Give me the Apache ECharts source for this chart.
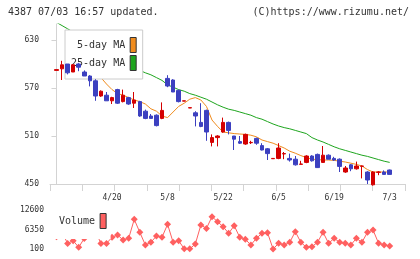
<!DOCTYPE html>
<html>
<head>
<meta charset="utf-8">
<script src="https://cdn.jsdelivr.net/npm/echarts@6/dist/echarts.min.js"></script>
<style>
html,body{margin:0;padding:0;background:#fff}
#chart{width:420px;height:259px}
</style>
</head>
<body>
<div id="chart"></div>
<script>
// daily prices, index 0 .. 60 (last = 7/3)
var dateLabels = ['4/20', '5/8', '5/22', '6/5', '6/19', '7/3']
var labelIdx = [10, 20, 30, 40, 50, 60]
var openP  = [592,594,600,590,600,590,585,579,560,561,554,568,553,558,551,553,541,535,536,532,
              582,580,567,553.6,545,539,527,542,502,508,515,527,510,503,500,501.6,507,498,494,481.6,
              482,487.6,482,481,474.6,477,485,487,477,486,482,481,465,474,469,472.1,465,449,464.6,465,467.5]
var closeP = [593,599,589,599,596,585,579,560,566,554,558,551,561,550,555,535,532,532,523,542,
              572.5,565,553,554,545.4,535,522,515,508,510,527,517,506,501,512,502,501,492.5,488,482,
              495,488,480,474,475,485,479,470.5,486,481,480,472,470,469,472.5,472.5,455,465,465,462,462]
var lowP   = [592,580,587,590,591,585,572,554,559,554,550,550,552,549,545,534,531,532,522,531,
              571,565,552,553.6,545,522,521,504,497,497,514,512,492.5,500,499,500,499,492,480,481.6,
              481,481,478,473,474.6,476,478,470,476.5,481,479,465,464,466,468,457,450,448,461,462,462]
var highP  = [593,604,600,600,601,592,586,581,567,565,559,569,568,559,565,554,543,537.5,537,552,
              586,581,568,554,545.4,541,551,543,512,511,533,528,510,510,513,504,508,501,495,482,
              501,490,488,485,479,486,486,488,497.5,487,484,482,472.5,475,478,473,466,466,466,467,468]
var ma5 = [null,null,null,null,594,592,588,585,583,575,568,563,561,558,555,553,550,544,541,535,
           533,540,547,551,556,558,555,547,530,522,515,514,513,512.5,512,511,509,505,503,501,
           498,495,491,488.5,485.5,483,481,480.5,480,480,479.5,478.5,477.5,476,474.5,472.5,468,465,465,465,465]
var ma25 = [652,648,644,640,636,632,628,624,620,616,612,608,604,600,596,592,589,586.5,583,579.5,
            574,571,568,566,563,561,558.5,556,552.5,549,546,543.5,542,540,538,536,533,531,528,525,
            522.5,520.5,519,517,515,513,508,505,502.5,499.5,496.5,494,492,490,488,486,484.5,482.5,480.5,478.5,477]
var volume = [4000,5400,1900,2750,650,3500,5000,5800,1900,1900,3850,4600,2980,3530,9600,5450,1400,2250,4270,3850,
              8000,2250,2750,150,150,1700,7800,6700,10450,8850,7250,5130,7570,3850,3210,1400,3530,5130,5320,100,
              1930,1380,2250,5650,2250,640,850,2250,5450,1930,3530,2250,1930,1380,3530,2250,5450,6190,1930,1380,1060]
var priceTicks = [450, 510, 570, 630]
var volTicks = [100, 6350, 12600]

var mono = 'DejaVu Sans Mono'
var xMin = -1.17
var xMax = 62.755
var xTicks = []
for (var k = 0; k <= 11; k++) xTicks.push(xMin + k * (xMax - xMin) / 11)

var candles = openP.map(function (o, i) { return [i, o, closeP[i], lowP[i], highP[i]] })
var ma5Data = ma5.map(function (v, i) { return [i, v] })
var ma25Data = ma25.map(function (v, i) { return [i, v] })
var volData = volume.map(function (v, i) { return [i, v] })

var chart = echarts.init(document.getElementById('chart'))
chart.setOption({
    animation: false,
    backgroundColor: '#fff',
    title: [
        {text: '4387 07/03 16:57 updated.', left: 8, top: 7, padding: 0,
         textStyle: {fontFamily: mono, fontSize: 10, fontWeight: 'normal', color: '#333'}},
        {text: '(C)https://www.rizumu.net/', right: 11, top: 7, padding: 0,
         textStyle: {fontFamily: mono, fontSize: 10, fontWeight: 'normal', color: '#333'}}
    ],
    legend: [
        {
            data: [{name: '5-day MA', icon: 'rect'}, {name: '25-day MA', icon: 'rect'}],
            orient: 'vertical', align: 'right', left: 65, top: 30,
            padding: [7, 6, 8, 6], itemGap: 2, itemWidth: 6, itemHeight: 15,
            backgroundColor: '#fff', borderColor: '#ccc', borderWidth: 1, z: 4,
            itemStyle: {borderColor: '#333', borderWidth: 1},
            textStyle: {fontFamily: mono, fontSize: 10, color: '#333'},
            selectedMode: false
        },
        {
            data: [{name: 'Volume', icon: 'rect'}],
            align: 'right', left: 53, top: 207,
            padding: [6, 4, 10, 6], itemWidth: 6, itemHeight: 15,
            backgroundColor: '#fff', borderWidth: 0, z: 4,
            itemStyle: {borderColor: '#333', borderWidth: 1},
            textStyle: {fontFamily: mono, fontSize: 10, color: '#333'},
            selectedMode: false
        }
    ],
    grid: [
        {left: 50, width: 355, top: 24, height: 160},
        {left: 50, width: 355, top: 210, height: 39}
    ],
    xAxis: [
        {
            type: 'value', gridIndex: 0, min: xMin, max: xMax,
            axisLine: {lineStyle: {color: '#d3d3d3'}},
            axisTick: {show: true, length: 7, customValues: xTicks, lineStyle: {color: '#d3d3d3'}},
            axisLabel: {
                customValues: labelIdx, margin: 10, fontFamily: mono, fontSize: 8, color: '#333',
                formatter: function (v) {
                    var j = labelIdx.indexOf(Math.round(v))
                    return j >= 0 ? dateLabels[j] : ''
                }
            },
            splitLine: {show: false}
        },
        {
            type: 'value', gridIndex: 1, min: xMin, max: xMax,
            axisLine: {show: false}, axisTick: {show: false}, axisLabel: {show: false},
            splitLine: {show: false}
        }
    ],
    yAxis: [
        {
            type: 'value', gridIndex: 0, min: 450, max: 650,
            axisLine: {show: true, lineStyle: {color: '#d3d3d3'}},
            axisTick: {show: true, length: 5, customValues: priceTicks, lineStyle: {color: '#d3d3d3'}},
            axisLabel: {customValues: priceTicks, margin: 11, fontFamily: mono, fontSize: 8, color: '#333'},
            splitLine: {show: false}
        },
        {
            type: 'value', gridIndex: 1, min: 100, max: 12600,
            axisLine: {show: false}, axisTick: {show: false},
            axisLabel: {
                customValues: volTicks, margin: 6, fontFamily: mono, fontSize: 8, color: '#333',
                formatter: function (v) { return String(v) }
            },
            splitLine: {show: false}
        }
    ],
    series: [
        {
            name: '25-day MA', type: 'line', xAxisIndex: 0, yAxisIndex: 0, data: ma25Data,
            showSymbol: false, color: '#1ea51e', lineStyle: {width: 1, color: '#1ea51e'}, z: 2
        },
        {
            name: '5-day MA', type: 'line', xAxisIndex: 0, yAxisIndex: 0, data: ma5Data,
            showSymbol: false, color: '#f08c1e', lineStyle: {width: 1, color: '#f08c1e'}, z: 2
        },
        {
            name: 'price', type: 'candlestick', xAxisIndex: 0, yAxisIndex: 0, data: candles,
            encode: {x: 0, y: [1, 2, 3, 4]}, barWidth: 4, clip: false, z: 5,
            itemStyle: {color: '#d40000', color0: '#3c40c0', borderColor: '#d40000', borderColor0: '#3c40c0', borderWidth: 1}
        },
        {
            name: 'Volume', type: 'line', xAxisIndex: 1, yAxisIndex: 1, data: volData,
            symbol: 'diamond', symbolSize: 7, showSymbol: true, color: '#ff6060',
            lineStyle: {width: 1, color: '#ff6060'}, itemStyle: {color: '#ff6060'}, z: 2
        }
    ]
})
</script>
</body>
</html>
